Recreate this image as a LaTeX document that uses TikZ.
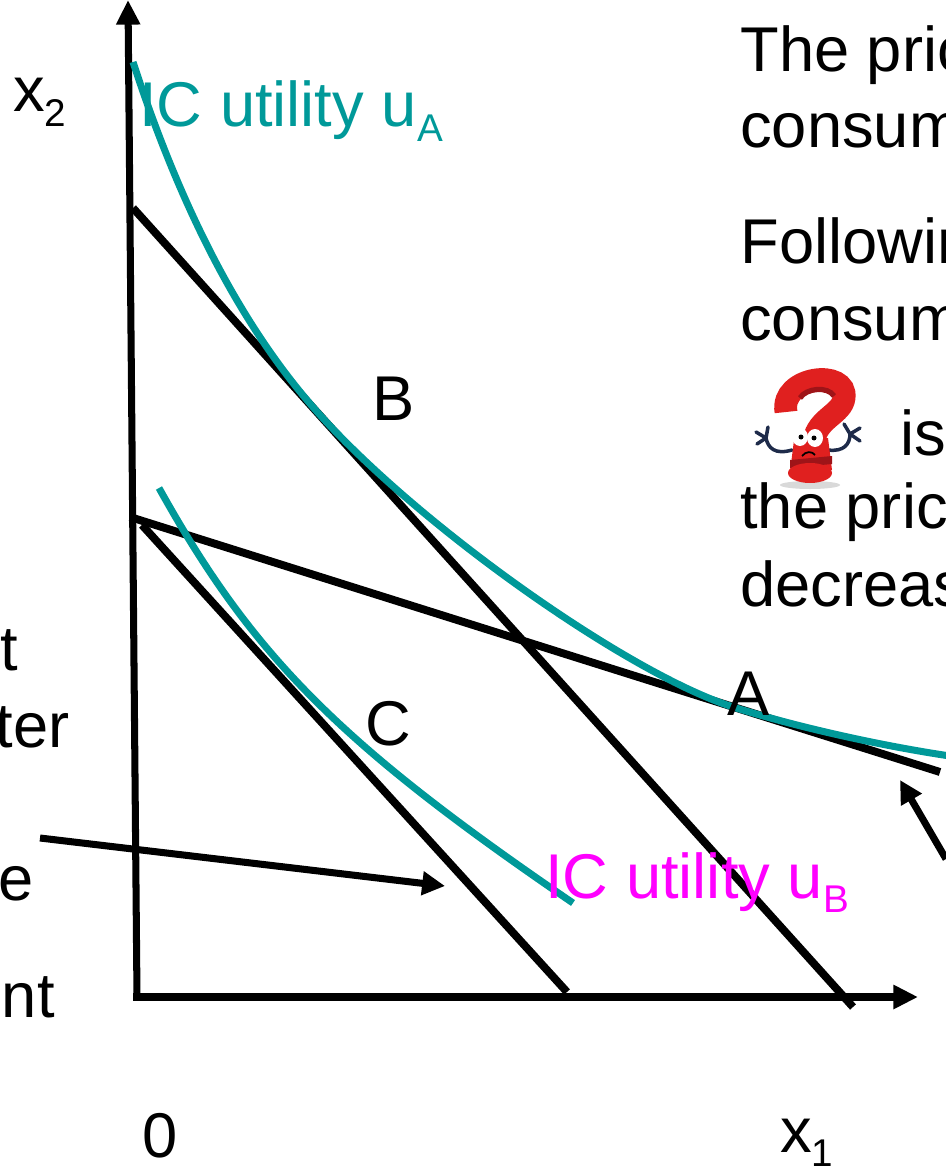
\documentclass[tikz,border=0pt]{standalone}
\usepackage{fontspec}
\setmainfont{Liberation Sans}
\usetikzlibrary{arrows.meta}
\definecolor{icteal}{HTML}{009999}
\definecolor{icpink}{HTML}{FF00FF}
\definecolor{qred}{HTML}{E0201F}
\definecolor{qdark}{HTML}{9E1418}
\definecolor{qnavy}{HTML}{1E2B4A}
\newcommand{\idx}[1]{\raisebox{-8pt}{\fontsize{22}{22}\selectfont #1}}

\begin{document}
\begin{tikzpicture}[
  x=0.02cm,y=-0.02cm,
  every node/.style={inner sep=0pt,anchor=base west,font=\fontsize{36}{43}\selectfont},
  axis/.style={line width=4pt,-{Triangle[length=14pt,width=13pt]}},
  budget/.style={line width=4.5pt},
  indiff/.style={line width=4pt,draw=icteal},
  pointer/.style={line width=4pt,-{Triangle[length=13pt,width=13pt]}},
  cutleft/.style={anchor=base east}
]
\useasboundingbox (0,0) rectangle (946,1169);
\clip (0,0) rectangle (946,1169);

% axes
\coordinate (o) at (137,997);
\coordinate (ytop) at (128,0);
\coordinate (xtip) at (918,997);
\draw[axis] (o) -- (ytop);
\draw[axis] (133,997) -- (xtip);
\node (xtwo) at (13,112) {x\idx{2}};
\node (zero) at (142,1157) {0};
\node (xone) at (780,1152) {x\idx{1}};

% budget lines
\coordinate (b1s) at (133,208);
\coordinate (b1e) at (853,1007);
\coordinate (b2s) at (130,517);
\coordinate (b2e) at (940,772);
\coordinate (b3s) at (142,525);
\coordinate (b3e) at (567,992);
\draw[budget] (b1s) -- (b1e);
\draw[budget] (b2s) -- (b2e);
\draw[budget] (b3s) -- (b3e);

% indifference curves, touching the budget lines at B, A and C
\coordinate (ua0) at (133,62);
\coordinate (tb) at (320,415);
\coordinate (ta) at (733,707);
\coordinate (ua1) at (950,756);
\draw[indiff] (ua0) .. controls (183,215) and (245,332) .. (tb)
  .. controls (422,528) and (629,674) .. (ta)
  .. controls (800,728) and (883,746) .. (ua1);
\coordinate (ub0) at (159,488);
\coordinate (ub1) at (573,903);
\draw[indiff] (ub0) .. controls (253,657) and (340,744) .. (ub1);

\node[text=icteal] (ua) at (139,127) {IC utility u\idx{A}};
\node[text=icpink] (ub) at (545,898) {IC utility u\idx{B}};
\node (ptb) at (372,420) {B};
\node (ptc) at (365,745) {C};
\node (pta) at (727,715) {A};

% text on the right
\node (r1) at (740,72) {The pric};
\node (r2) at (740,148) {consum};
\node (r3) at (740,263) {Followin};
\node (r4) at (740,340) {consum};
\node (r5) at (900,455) {is};
\node (r6) at (740,528) {the pric};
\node (r7) at (740,606) {decreas};

% text on the left
\node[cutleft] (l1) at (18,670) {t};
\node[cutleft] (l2) at (70,747) {ter};
\node[cutleft] (l3) at (34,900) {e};
\node[cutleft] (l4) at (55,1017) {nt};

% pointers
\coordinate (p1s) at (40,838);
\coordinate (p1e) at (445,886);
\coordinate (p2s) at (946,859);
\coordinate (p2e) at (900,780);
\draw[pointer] (p1s) -- (p1e);
\draw[pointer] (p2s) -- (p2e);

% puzzled question mark
\fill[black!15] (810,485) ellipse (30 and 4);
\draw[qnavy,line width=2pt,line cap=round] (792,450) .. controls (775,455) and (768,448) .. (766,438)
  (766,438) -- (756,432) (766,438) -- (757,444) (766,438) -- (768,427);
\draw[qnavy,line width=2pt,line cap=round] (828,450) .. controls (844,452) and (850,444) .. (850,434)
  (850,434) -- (844,424) (850,434) -- (860,428) (850,434) -- (860,441);
\draw[qred,line width=13pt] (786,412) .. controls (780,376) and (848,368) .. (844,398)
  .. controls (842,414) and (818,418) .. (814,440);
\draw[qdark,line width=3pt] (800,398) .. controls (806,388) and (828,386) .. (834,396);
\fill[qred] (794,440) -- (828,438) -- (832,470) -- (790,472) -- cycle;
\fill[qdark] (790,460) -- (832,456) -- (832,464) -- (790,468) -- cycle;
\fill[qred] (810,473) ellipse (22 and 10);
\fill[white] (800,437) ellipse (8 and 9);
\fill[white] (815,438) ellipse (8 and 9);
\fill[black] (801,437) circle (2.5);
\fill[black] (814,438) circle (2.5);
\draw[black,line width=1pt] (802,456) .. controls (806,451) and (812,451) .. (815,455);
\end{tikzpicture}
\end{document}
